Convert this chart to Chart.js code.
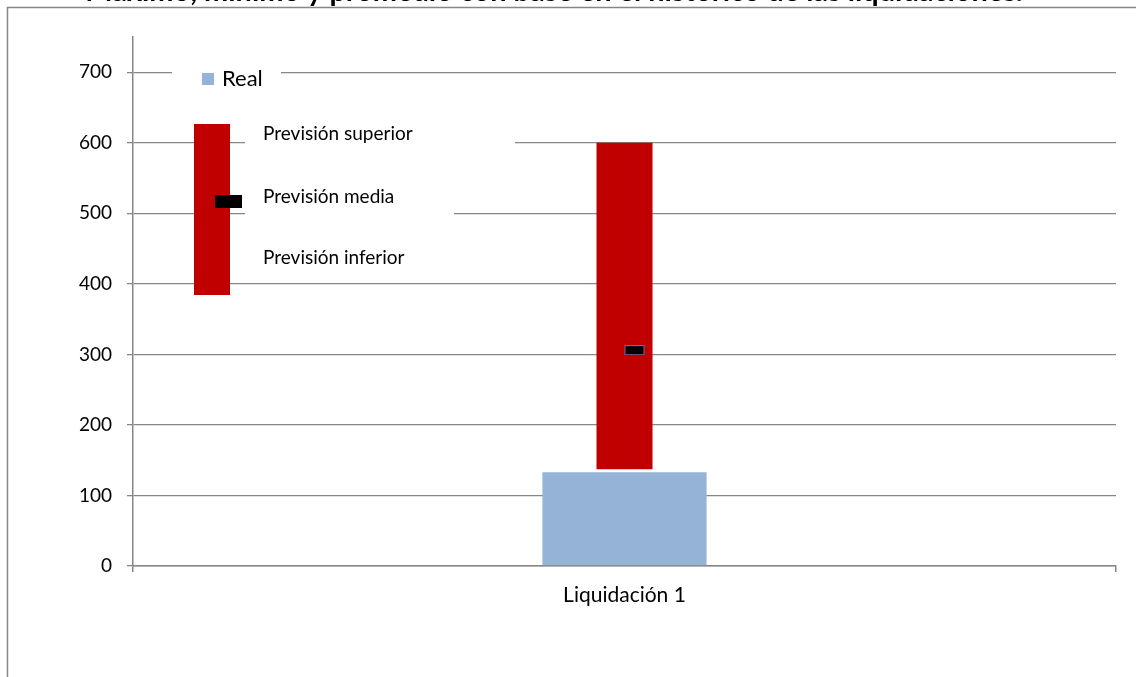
<!DOCTYPE html>
<html>
<head>
<meta charset="utf-8">
<script src="https://cdn.jsdelivr.net/npm/chart.js@4"></script>
<style>
html,body{margin:0;padding:0;background:#fff;}
canvas{display:block;}
</style>
</head>
<body>
<canvas id="chart" width="1136" height="677"></canvas>
<script>
// data
let categories = ["Liquidación 1"];
let realValues = [133];
let prevInferior = [137];
let prevSuperior = [600];
let prevMedia = [306];
let yTicks = [0,100,200,300,400,500,600,700];
let titleText = "Máximo, mínimo y promedio con base en el histórico de las liquidaciones.";
let legendLabels = ["Previsión superior","Previsión media","Previsión inferior"];

let grey = "#868686";
let red = "#C00000";
let blue = "#95B3D7";

// little marker for the mean, drawn right of the bar centre
let meanMark = document.createElement("canvas");
meanMark.width = 42;
meanMark.height = 10;
let mctx = meanMark.getContext("2d");
mctx.fillStyle = "#000";
mctx.fillRect(21,0,20,10);
mctx.strokeStyle = "#7464a0";
mctx.lineWidth = 1;
mctx.strokeRect(21.5,0.5,19,9);

let rangeData = categories.map((c,i)=>[prevInferior[i],prevSuperior[i]]);

/* frame, cut title and hand made legend */
let decor = {
id:"decor",
beforeDraw(chart){
let ctx = chart.ctx;
ctx.save();
ctx.fillStyle = "#fff";
ctx.fillRect(0,0,chart.width,chart.height);
ctx.strokeStyle = grey;
ctx.lineWidth = 1.5;
ctx.beginPath();
ctx.moveTo(7.5,chart.height);
ctx.lineTo(7.5,7.5);
ctx.lineTo(chart.width,7.5);
ctx.stroke();
ctx.font = "bold 20px Lato";
let w = ctx.measureText(titleText).width;
let size = 20*938/w;
ctx.font = "bold "+size+"px Lato";
ctx.fillStyle = "#000";
ctx.textAlign = "center";
ctx.textBaseline = "alphabetic";
ctx.fillText(titleText,554,1);
ctx.restore();
},
afterDraw(chart){
let ctx = chart.ctx;
ctx.save();
// Real
ctx.fillStyle = "#fff";
ctx.fillRect(172,62,109,24);
ctx.fillStyle = blue;
ctx.fillRect(202,73,12,12);
ctx.fillStyle = "#000";
ctx.font = "22px Lato";
ctx.textBaseline = "middle";
ctx.textAlign = "left";
ctx.fillText(chart.data.datasets[0].label,222,79);
// prevision boxes
ctx.fillStyle = "#fff";
ctx.fillRect(245,120,270,28);
ctx.fillRect(245,184,209,32);
ctx.fillRect(245,246,200,26);
ctx.fillStyle = red;
ctx.fillRect(194,124,36,171);
ctx.fillStyle = "#000";
ctx.fillRect(215,195,27,13);
ctx.font = "19px Lato";
ctx.fillText(legendLabels[0],263,134);
ctx.fillText(legendLabels[1],263,197);
ctx.fillText(legendLabels[2],263,258);
ctx.restore();
}
};

new Chart(document.getElementById("chart"),{
type:"bar",
data:{
labels:categories,
datasets:[
{
label:"Real",
data:realValues,
backgroundColor:blue,
barPercentage:0.167,
categoryPercentage:1,
grouped:false,
order:3
},
{
label:"Previsión",
data:rangeData,
backgroundColor:red,
barPercentage:0.057,
categoryPercentage:1,
grouped:false,
order:2
},
{
type:"line",
label:"Previsión media",
data:prevMedia,
showLine:false,
pointStyle:meanMark,
pointRadius:10,
order:1
}
]
},
options:{
responsive:false,
animation:false,
layout:{padding:{top:37,right:20,left:0,bottom:0}},
plugins:{legend:{display:false},tooltip:{enabled:false},title:{display:false}},
scales:{
x:{
offset:true,
grid:{offset:true,drawOnChartArea:false,color:grey,tickLength:6,lineWidth:1.5},
border:{color:grey,width:1.5},
ticks:{color:"#000",font:{family:"Lato",size:21},padding:11},
afterFit(s){s.height=111;}
},
y:{
min:0,
max:750,
grid:{color:grey,tickLength:6,lineWidth:1.3},
border:{color:grey,width:1.5},
ticks:{color:"#000",font:{family:"Lato",size:19},padding:15,stepSize:100},
afterBuildTicks(s){s.ticks = yTicks.map(v=>({value:v}));},
afterFit(s){s.width=133;}
}
}
},
plugins:[decor]
});
</script>
</body>
</html>
